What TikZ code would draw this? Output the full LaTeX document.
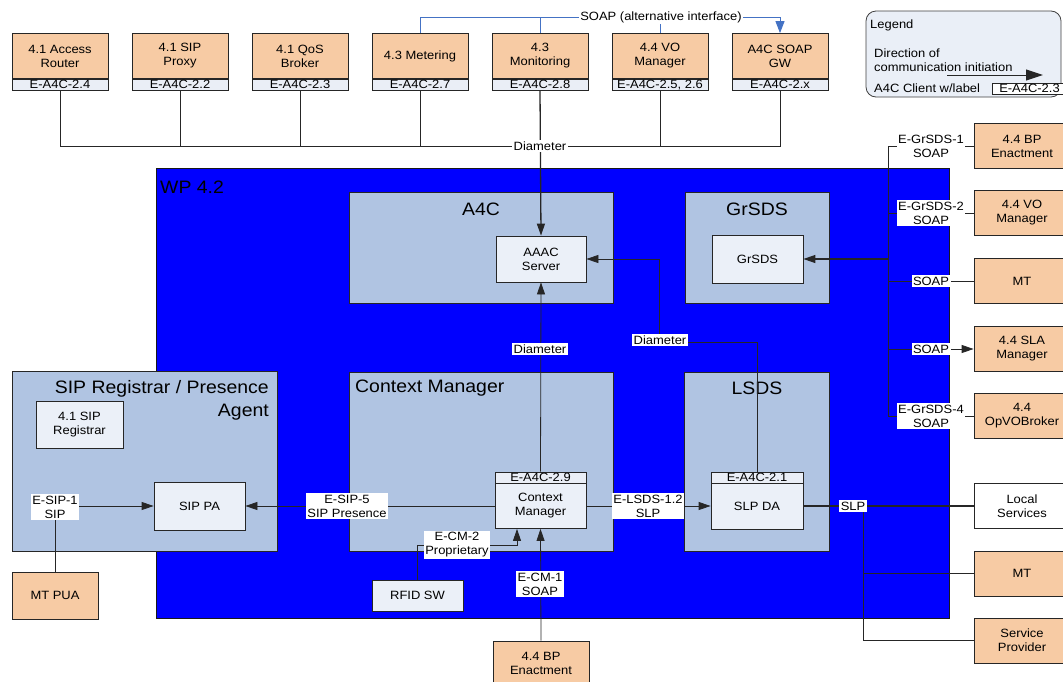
\documentclass[tikz,border=0pt]{standalone}
\usepackage{fontspec}
\setmainfont[FakeStretch=1.08]{Liberation Sans}
\usetikzlibrary{arrows.meta}
\definecolor{extfill}{HTML}{F7CBA4}
\definecolor{tagfill}{HTML}{EAEEF6}
\definecolor{grpfill}{HTML}{B0C4E2}
\definecolor{infill}{HTML}{EBF0F8}
\definecolor{wpblue}{HTML}{0000FF}
\definecolor{soapblue}{HTML}{4472C4}
\definecolor{legfill}{HTML}{EAEFF7}
\begin{document}
\begin{tikzpicture}[x=1pt,y=-1pt,
  every node/.style={font=\fontsize{12}{14}\selectfont, align=center, inner sep=1pt},
  ext/.style={draw=black!85, fill=extfill, line width=0.8pt, minimum width=96pt, minimum height=45pt},
  tag/.style={draw=black!85, fill=tagfill, line width=0.8pt, minimum width=96pt, minimum height=11pt,
              inner sep=0pt, text height=8.4pt, text depth=0.6pt},
  grp/.style={draw=black!85, fill=grpfill, line width=0.8pt},
  inbox/.style={draw=black!85, fill=infill, line width=0.8pt},
  gtitle/.style={font=\fontsize{18}{23}\selectfont},
  lbl/.style={fill=white, inner sep=1.5pt, font=\fontsize{12}{14}\selectfont},
  wire/.style={draw=black!85, line width=0.8pt},
  arr/.style={wire, -{Triangle[length=12pt,width=8pt]}},
  soap/.style={draw=soapblue, line width=1pt},
]
\useasboundingbox (0,0) rectangle (1063,681);
\clip (0,0) rectangle (1063,681);

% ---- work package area
\node[draw=black!90, fill=wpblue, line width=0.8pt, minimum width=793pt, minimum height=450pt] (wp) at (552.5,393) {};
\node[gtitle, anchor=west] (wpt) at (159,187) {WP 4.2};

% ---- groups
\node[grp, minimum width=264pt, minimum height=111pt] (a4cg) at (481,247.5) {};
\node[gtitle] (a4ct) at (481,209) {A4C};
\node[grp, minimum width=144pt, minimum height=111pt] (grsdsg) at (757,247.5) {};
\node[gtitle] (grsdst) at (757,209) {GrSDS};
\node[grp, minimum width=264pt, minimum height=179pt] (cmg) at (481,461.5) {};
\node[gtitle, anchor=west] (cmt) at (354,388) {Context Manager};
\node[grp, minimum width=145pt, minimum height=179pt] (lsdsg) at (756.5,461.5) {};
\node[gtitle] (lsdst) at (757,388) {LSDS};
\node[grp, minimum width=265pt, minimum height=180pt] (sipg) at (144.5,461) {};
\node[gtitle, anchor=east, align=right] (sipt) at (270,400.5) {SIP Registrar / Presence\\Agent};

% ---- inner components
\node[inbox, minimum width=90pt, minimum height=46pt] (aaac) at (541,259) {AAAC\\Server};
\node[inbox, minimum width=91pt, minimum height=48pt] (grsds) at (757.5,259) {GrSDS};
\node[tag, minimum width=91pt] (cmtag) at (540.5,477.5) {E-A4C-2.9};
\node[inbox, minimum width=91pt, minimum height=45pt] (cm) at (540.5,506) {Context\\Manager};
\node[tag, minimum width=92pt] (slptag) at (757,477.5) {E-A4C-2.1};
\node[inbox, minimum width=92pt, minimum height=46pt] (slpda) at (757,506) {SLP DA};
\node[inbox, minimum width=91pt, minimum height=48pt] (sippa) at (199.5,506) {SIP PA};
\node[inbox, minimum width=87pt, minimum height=47pt] (sipreg) at (79.5,424.5) {4.1 SIP\\Registrar};
\node[inbox, minimum width=91pt, minimum height=31pt] (rfid) at (417.5,595.5) {RFID SW};

% ---- external components, top row
\node[ext] (ar) at (60,56) {4.1 Access\\Router};
\node[tag] (artag) at (60,84.5) {E-A4C-2.4};
\node[ext] (sp) at (180,56) {4.1 SIP\\Proxy};
\node[tag] (sptag) at (180,84.5) {E-A4C-2.2};
\node[ext] (qos) at (300,56) {4.1 QoS\\Broker};
\node[tag] (qostag) at (300,84.5) {E-A4C-2.3};
\node[ext] (me) at (420,56) {4.3 Metering};
\node[tag] (metag) at (420,84.5) {E-A4C-2.7};
\node[ext] (mo) at (540,56) {4.3\\Monitoring};
\node[tag] (motag) at (540,84.5) {E-A4C-2.8};
\node[ext] (vo) at (660,56) {4.4 VO\\Manager};
\node[tag] (votag) at (660,84.5) {E-A4C-2.5, 2.6};
\node[ext] (gw) at (780,56) {A4C SOAP\\GW};
\node[tag] (gwtag) at (780,84.5) {E-A4C-2.x};

% ---- external components, right column
\node[ext] (bpeR) at (1022,146) {4.4 BP\\Enactment};
\node[ext] (voR) at (1022,213) {4.4 VO\\Manager};
\node[ext] (mtR) at (1022,281) {MT};
\node[ext] (slaR) at (1022,349) {4.4 SLA\\Manager};
\node[ext] (opvR) at (1022,416) {4.4\\OpVOBroker};
\node[ext, fill=white] (locs) at (1022,506) {Local\\Services};
\node[ext] (mt2) at (1022,573.5) {MT};
\node[ext] (sprov) at (1022,640.5) {Service\\Provider};

% ---- external components, bottom
\node[ext, minimum width=86pt, minimum height=47pt] (mtpua) at (55,595.5) {MT PUA};
\node[ext] (bpeB) at (541,663.5) {4.4 BP\\Enactment};

% ---- legend
\node[draw=black!75, fill=legfill, rounded corners=10pt, line width=0.8pt,
      minimum width=195pt, minimum height=86pt] (leg) at (963.5,54) {};
\node[anchor=west] (legt) at (869,25) {Legend};
\node[anchor=west, align=left] (legd) at (873,60.5) {Direction of\\communication initiation};
\coordinate (legA) at (947,75);
\coordinate (legB) at (1043,75);
\draw[wire, line width=1pt, -{Triangle[length=17pt,width=11pt]}] (legA) -- (legB);
\node[anchor=west] (legc) at (873,88.5) {A4C Client w/label};
\node[tag, minimum width=75pt, fill=white] (legtag) at (1029.5,88.5) {E-A4C-2.3};

% ---- Diameter bus from the top row
\draw[wire] (artag.south) -- ++(0,56) -| (gwtag.south);
\draw[wire] (sptag.south) -- ++(0,56);
\draw[wire] (qostag.south) -- ++(0,56);
\draw[wire] (metag.south) -- ++(0,56);
\draw[wire] (votag.south) -- ++(0,56);
\draw[arr, line width=1.3pt] (motag.south) -- (aaac.north);
\node[lbl] (dia1) at (540,146) {Diameter};

% ---- alternative SOAP interface
\draw[soap, -{Triangle[length=12pt,width=9pt]}] (me.north) -- ++(0,-16) -| (gw.north);
\draw[soap] (mo.north) -- ++(0,-16);
\draw[soap] (vo.north) -- ++(0,-16);
\node[lbl, inner sep=1pt] (soapalt) at (661,17) {SOAP (alternative interface)};

% ---- GrSDS bus
\coordinate (busT) at (888,146);
\coordinate (busB) at (888,416);
\draw[wire] (busT) -- (busB);
\draw[wire] (busT) -- (bpeR.west);
\draw[wire] (busT |- voR.west) -- (voR.west);
\draw[wire] (busT |- mtR.west) -- (mtR.west);
\draw[arr] (busT |- slaR.west) -- (slaR.west);
\draw[wire] (busB) -- (opvR.west);
\draw[arr, line width=1.2pt] (busT |- grsds.east) -- (grsds.east);
\node[lbl] (g1) at (931,146) {E-GrSDS-1\\SOAP};
\node[lbl] (g2) at (931,213) {E-GrSDS-2\\SOAP};
\node[lbl] (g3) at (931,281) {SOAP};
\node[lbl] (g4) at (931,349) {SOAP};
\node[lbl] (g5) at (931,416) {E-GrSDS-4\\SOAP};

% ---- Diameter links to the AAAC server
\draw[arr] (cmtag.north) -- (aaac.south);
\node[lbl] (dia2) at (540,349) {Diameter};
\coordinate (d3) at (659,342);
\draw[arr] (slptag.north) |- (d3) |- (aaac.east);
\node[lbl] (dia3) at (660,340) {Diameter};

% ---- SIP links
\draw[arr] (cm.west) -- (sippa.east);
\node[lbl] (esip5) at (347,506) {E-SIP-5\\SIP Presence};
\draw[arr] (mtpua.north) |- (sippa.west);
\node[lbl] (esip1) at (55,507) {E-SIP-1\\SIP};

% ---- context sources
\draw[arr] (rfid.north) -- ++(0,-34) -| ([xshift=-23.5pt]cm.south);
\node[lbl] (ecm2) at (457,545) {E-CM-2\\Proprietary};
\draw[arr] (bpeB.north) -- (cm.south);
\node[lbl] (ecm1) at (540,584) {E-CM-1\\SOAP};

% ---- location services
\draw[arr] (cm.east) -- (slpda.west);
\node[lbl] (elsds) at (648,506) {E-LSDS-1.2\\SLP};
\draw[wire, line width=1.2pt] (slpda.east) -- (locs.west);
\coordinate (slpj) at (863,506);
\draw[wire] (slpj) |- (mt2.west);
\draw[wire] (slpj) |- (sprov.west);
\node[lbl] (slp) at (853,506) {SLP};
\end{tikzpicture}
\end{document}
